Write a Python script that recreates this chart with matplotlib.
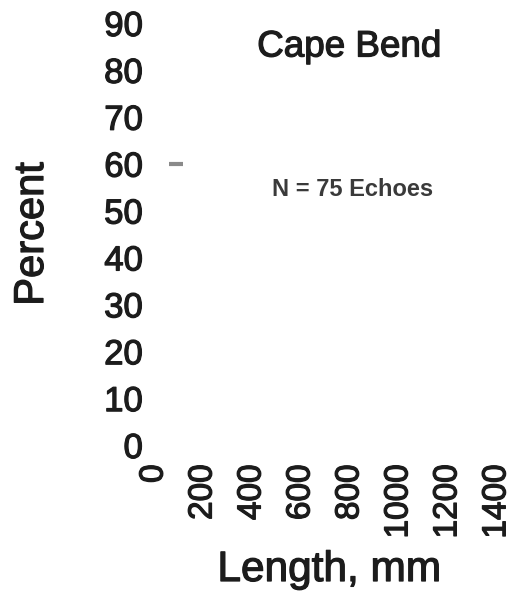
import matplotlib
matplotlib.use("Agg")
import matplotlib.pyplot as plt
import matplotlib.patheffects as pe

# Histogram of echo lengths (only one visible bin top in the original)
bin_left = [60]
bin_right = [118]
percent = [60]

x_ticks = [0, 200, 400, 600, 800, 1000, 1200, 1400]
y_ticks = [0, 10, 20, 30, 40, 50, 60, 70, 80, 90]

plt.rcParams['font.family'] = ['Liberation Sans', 'DejaVu Sans']
text_color = '#1c1c1c'
# slightly heavier strokes, like the scanned original
heavy = [pe.withStroke(linewidth=0.9, foreground=text_color)]

fig = plt.figure(figsize=(5.23, 5.97), dpi=100)
ax = fig.add_axes([0.2945, 0.2546, 0.6555, 0.7069])

# bar tops only
ax.hlines(percent, bin_left, bin_right, colors='#8a8a8a', linewidth=3)

ax.set_xlim(0, 1400)
ax.set_ylim(0, 90)
ax.set_xticks(x_ticks)
ax.set_yticks(y_ticks)
ax.set_xticklabels([str(t) for t in x_ticks], rotation=90, fontsize=24,
                   color=text_color, path_effects=heavy)
ax.set_yticklabels([str(t) for t in y_ticks], fontsize=25,
                   color=text_color, path_effects=heavy)
ax.tick_params(axis='both', length=0)
ax.tick_params(axis='y', pad=8)
ax.tick_params(axis='x', pad=14)

for s in ax.spines.values():
    s.set_visible(False)

# axis titles placed in figure pixels to match the reference
fig.text(32 / 523, 1 - 234 / 597, 'Percent', rotation=90, ha='center', va='center',
         fontsize=30, color=text_color, path_effects=heavy)
fig.text(329 / 523, 1 - 570 / 597, 'Length, mm', ha='center', va='center',
         fontsize=30.5, color=text_color, path_effects=heavy)

fig.text(349 / 523, 1 - 47 / 597, 'Cape Bend', ha='center', va='center',
         fontsize=26.5, color=text_color, path_effects=heavy)
fig.text(353 / 523, 1 - 190 / 597, 'N = 75 Echoes', ha='center', va='center',
         fontsize=17, color='#3a3a3a', fontweight='bold')

fig.savefig('out.png', dpi=100)
